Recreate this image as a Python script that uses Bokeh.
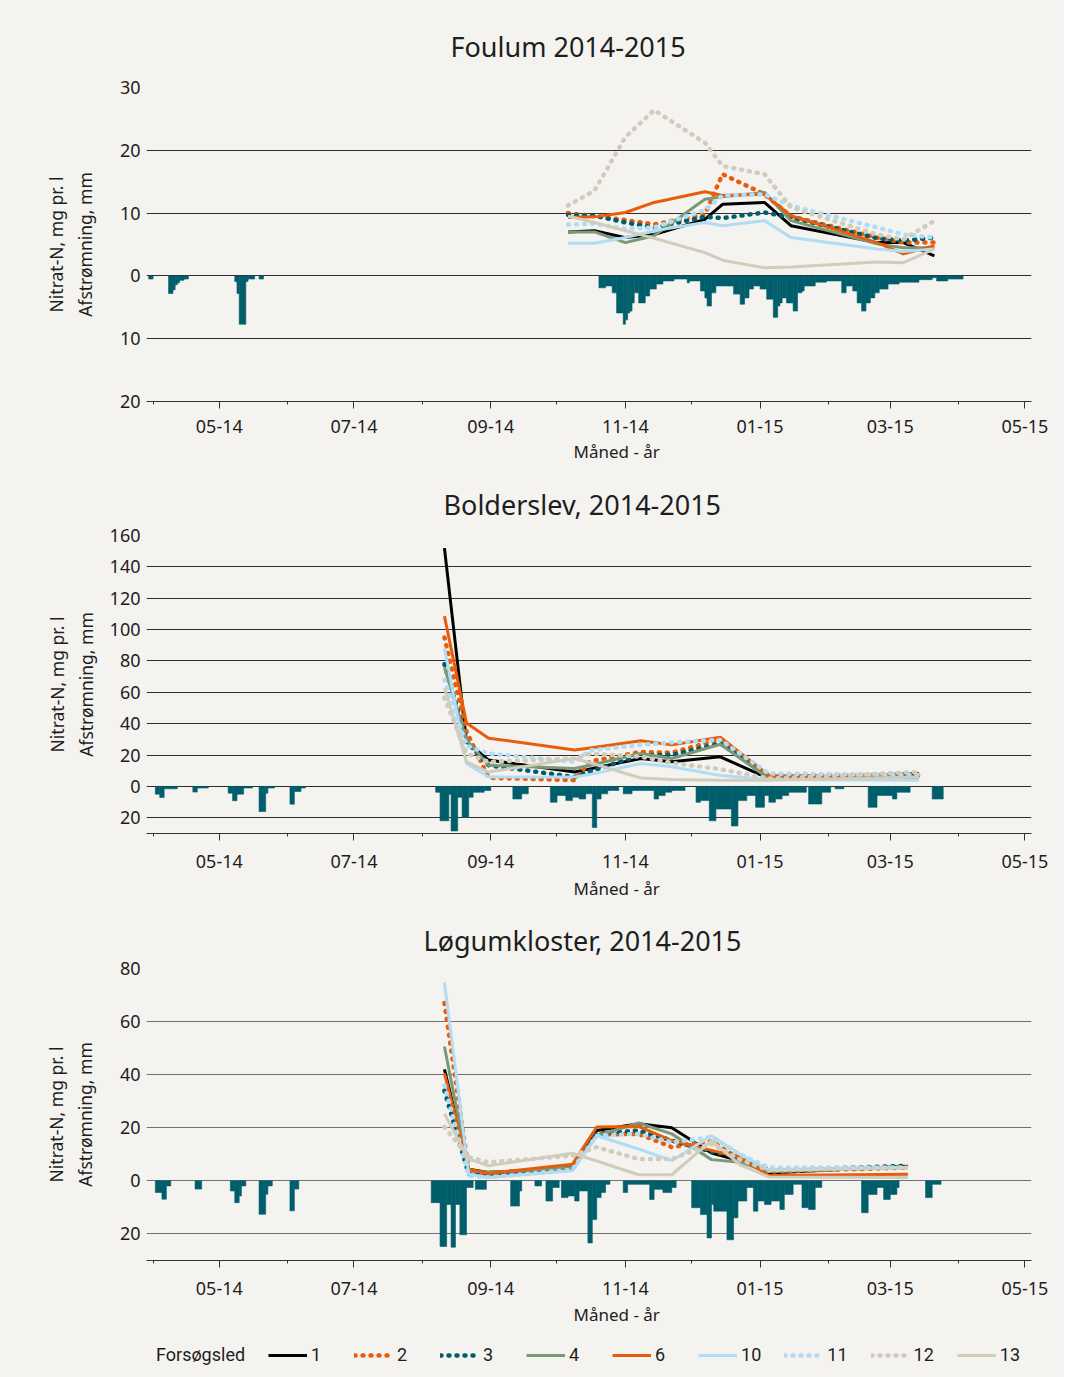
import numpy as np
import pandas as pd
from bokeh.plotting import figure
from bokeh.models import (Range1d, FixedTicker, DatetimeTickFormatter, CustomJSTickFormatter,
                          ColumnDataSource, Legend, LegendItem, Title)
from bokeh.layouts import column
from bokeh.embed import file_html
from bokeh.resources import INLINE

# ---------------- data ----------------
series_names = ["1", "2", "3", "4", "6", "10", "11", "12", "13"]
series_colors = ["#000000", "#e85d0c", "#005e6b", "#7b9978", "#e85d0c",
                 "#b0ddf5", "#b0ddf5", "#d1cdbd", "#d1cdbd"]
series_dotted = [False, True, True, False, False, False, True, True, False]

x_major_ticks = ["2014-05-01", "2014-07-01", "2014-09-01", "2014-11-01",
                 "2015-01-01", "2015-03-01", "2015-05-01"]
x_minor_ticks = ["2014-04-01", "2014-05-01", "2014-06-01", "2014-07-01", "2014-08-01",
                 "2014-09-01", "2014-10-01", "2014-11-01", "2014-12-01", "2015-01-01",
                 "2015-02-01", "2015-03-01", "2015-04-01", "2015-05-01"]

# Foulum
foulum_dates = ["2014-10-06", "2014-10-18", "2014-11-01", "2014-11-14", "2014-12-07", "2014-12-15",
                "2015-01-03", "2015-01-15", "2015-02-23", "2015-03-07", "2015-03-21"]
foulum_s1 = [7.0, 7.2, 6.1, 6.6, 9.0, 11.4, 11.7, 8.0, 5.3, 5.3, 3.2]
foulum_s2 = [10.0, 9.5, 8.9, 8.2, 9.8, 16.2, 13.0, 9.5, 6.1, 5.3, 5.3]
foulum_s3 = [9.7, 9.6, 8.5, 7.7, 9.4, 9.2, 10.1, 9.3, 6.0, 5.6, 6.1]
foulum_s4 = [7.0, 7.0, 5.3, 6.4, 12.2, 12.6, 13.3, 8.8, 5.1, 4.5, 4.5]
foulum_s6 = [9.3, 9.4, 10.1, 11.7, 13.4, 12.8, 13.0, 9.6, 5.3, 3.5, 4.8]
foulum_s10 = [5.2, 5.2, 6.1, 7.2, 8.5, 8.0, 8.8, 6.1, 4.3, 3.9, 4.3]
foulum_s11 = [8.2, 8.3, 7.5, 7.7, 10.5, 12.8, 13.0, 11.2, 7.7, 6.6, 6.1]
foulum_s12 = [11.2, 13.6, 22.1, 26.4, 21.2, 17.5, 16.2, 10.9, 6.6, 5.8, 8.8]
foulum_s13 = [9.5, 8.5, 7.2, 6.0, 3.7, 2.5, 1.3, 1.4, 2.2, 2.1, 4.3]

foulum_runoff = [
    ("2014-03-30", "2014-04-01", 0.5), ("2014-04-08", "2014-04-10", 2.8), ("2014-04-10", "2014-04-11", 2.2),
    ("2014-04-11", "2014-04-12", 1.4), ("2014-04-12", "2014-04-13", 1.1), ("2014-04-13", "2014-04-15", 0.7),
    ("2014-04-15", "2014-04-17", 0.5), ("2014-05-08", "2014-05-09", 0.9), ("2014-05-09", "2014-05-10", 2.8),
    ("2014-05-10", "2014-05-13", 7.7), ("2014-05-13", "2014-05-14", 0.9), ("2014-05-14", "2014-05-17", 0.5),
    ("2014-05-19", "2014-05-21", 0.5),
    ("2014-10-20", "2014-10-23", 1.9), ("2014-10-23", "2014-10-26", 1.6), ("2014-10-26", "2014-10-28", 2.7),
    ("2014-10-28", "2014-10-31", 5.9), ("2014-10-31", "2014-11-01", 7.7), ("2014-11-01", "2014-11-02", 7.0),
    ("2014-11-02", "2014-11-03", 5.9), ("2014-11-03", "2014-11-04", 5.6), ("2014-11-04", "2014-11-05", 4.3),
    ("2014-11-05", "2014-11-07", 2.7), ("2014-11-07", "2014-11-10", 4.3), ("2014-11-10", "2014-11-12", 3.2),
    ("2014-11-12", "2014-11-15", 2.1), ("2014-11-15", "2014-11-18", 1.3), ("2014-11-18", "2014-11-23", 0.8),
    ("2014-11-23", "2014-11-29", 0.5), ("2014-11-29", "2014-11-30", 1.1), ("2014-11-30", "2014-12-05", 0.8),
    ("2014-12-05", "2014-12-07", 2.4), ("2014-12-07", "2014-12-08", 3.5), ("2014-12-08", "2014-12-10", 4.8),
    ("2014-12-10", "2014-12-12", 2.7), ("2014-12-12", "2014-12-20", 1.6), ("2014-12-20", "2014-12-23", 2.9),
    ("2014-12-23", "2014-12-25", 4.5), ("2014-12-25", "2014-12-27", 3.5), ("2014-12-27", "2014-12-29", 2.1),
    ("2014-12-29", "2015-01-01", 1.6), ("2015-01-01", "2015-01-04", 2.1), ("2015-01-04", "2015-01-07", 3.7),
    ("2015-01-07", "2015-01-09", 6.6), ("2015-01-09", "2015-01-10", 4.8), ("2015-01-10", "2015-01-11", 4.3),
    ("2015-01-11", "2015-01-13", 3.5), ("2015-01-13", "2015-01-16", 4.3), ("2015-01-16", "2015-01-18", 5.6),
    ("2015-01-18", "2015-01-20", 2.7), ("2015-01-20", "2015-01-21", 2.4), ("2015-01-21", "2015-01-26", 1.6),
    ("2015-01-26", "2015-01-31", 1.0), ("2015-01-31", "2015-02-07", 0.8), ("2015-02-07", "2015-02-09", 2.7),
    ("2015-02-09", "2015-02-12", 1.6), ("2015-02-12", "2015-02-14", 2.4), ("2015-02-14", "2015-02-16", 4.3),
    ("2015-02-16", "2015-02-18", 5.6), ("2015-02-18", "2015-02-20", 4.3), ("2015-02-20", "2015-02-22", 3.5),
    ("2015-02-22", "2015-02-24", 2.7), ("2015-02-24", "2015-02-28", 2.1), ("2015-02-28", "2015-03-05", 1.3),
    ("2015-03-05", "2015-03-14", 1.0), ("2015-03-14", "2015-03-20", 0.6), ("2015-03-20", "2015-03-22", 0.3),
    ("2015-03-22", "2015-03-27", 0.8), ("2015-03-27", "2015-04-03", 0.5),
]

# Bolderslev
bold_dates = ["2014-08-11", "2014-08-21", "2014-08-31", "2014-10-09", "2014-10-16", "2014-11-08",
              "2014-11-22", "2014-12-14", "2015-01-05", "2015-03-14"]
bold_s1 = [152, 28.6, 16.8, 9.2, 11.2, 17.8, 15.7, 18.9, 5.0, 8.2]
bold_s2 = [95, 35, 5.5, 4.0, 16, 22, 21.5, 30, 7, 7]
bold_s3 = [78, 28.6, 13.5, 6.0, 9.6, 20, 20, 27.5, 6, 7]
bold_s4 = [76, 29.7, 13.5, 11.4, 13.5, 21, 17.8, 26.9, 5, 6]
bold_s6 = [108.6, 40.4, 30.8, 23.2, 24.5, 29.2, 26.5, 31.4, 7, 6]
bold_s10 = [88.4, 14.6, 6.0, 6.0, 7.7, 14.6, 12.5, 7, 4.5, 3.9]
bold_s11 = [68, 26, 21, 15.7, 23, 26.5, 28, 29.7, 8.2, 7.5]
bold_s12 = [56.6, 21, 15.7, 17.8, 21, 19, 15, 11, 5, 9.2]
bold_s13 = [63, 15.7, 9.2, 17.8, 15.1, 5.4, 4.5, 3.9, 3.9, 6]

bold_runoff = [
    ("2014-04-02", "2014-04-04", 4.9), ("2014-04-04", "2014-04-06", 7.0), ("2014-04-06", "2014-04-12", 1.5),
    ("2014-04-19", "2014-04-21", 3.6), ("2014-04-21", "2014-04-26", 1.0), ("2014-05-05", "2014-05-07", 4.3),
    ("2014-05-07", "2014-05-09", 9.1), ("2014-05-09", "2014-05-12", 4.9), ("2014-05-12", "2014-05-16", 1.0),
    ("2014-05-19", "2014-05-22", 16.0), ("2014-05-22", "2014-05-23", 4.3), ("2014-05-23", "2014-05-26", 1.0),
    ("2014-06-02", "2014-06-04", 11.3), ("2014-06-04", "2014-06-07", 3.2), ("2014-06-07", "2014-06-09", 1.0),
    ("2014-08-07", "2014-08-09", 3.7), ("2014-08-09", "2014-08-13", 21.9), ("2014-08-13", "2014-08-14", 5.0),
    ("2014-08-14", "2014-08-17", 28.4), ("2014-08-17", "2014-08-19", 6.9), ("2014-08-19", "2014-08-22", 19.8),
    ("2014-08-22", "2014-08-24", 6.9), ("2014-08-24", "2014-08-29", 3.7), ("2014-08-29", "2014-09-01", 2.6),
    ("2014-09-11", "2014-09-15", 8.0), ("2014-09-15", "2014-09-18", 4.7),
    ("2014-09-28", "2014-10-01", 10.1), ("2014-10-01", "2014-10-05", 5.8), ("2014-10-05", "2014-10-08", 9.0),
    ("2014-10-08", "2014-10-11", 6.9), ("2014-10-11", "2014-10-14", 8.0), ("2014-10-14", "2014-10-17", 4.7),
    ("2014-10-17", "2014-10-19", 26.2), ("2014-10-19", "2014-10-21", 8.0), ("2014-10-21", "2014-10-24", 4.7),
    ("2014-10-24", "2014-10-29", 2.6),
    ("2014-10-31", "2014-11-04", 4.7), ("2014-11-04", "2014-11-14", 2.6), ("2014-11-14", "2014-11-16", 8.0),
    ("2014-11-16", "2014-11-19", 5.8), ("2014-11-19", "2014-11-22", 3.7), ("2014-11-22", "2014-11-28", 2.6),
    ("2014-12-03", "2014-12-05", 10.1), ("2014-12-05", "2014-12-09", 9.0), ("2014-12-09", "2014-12-12", 21.9),
    ("2014-12-12", "2014-12-19", 14.4), ("2014-12-19", "2014-12-22", 25.2), ("2014-12-22", "2014-12-26", 9.0),
    ("2014-12-26", "2014-12-30", 5.8), ("2014-12-30", "2015-01-03", 13.3), ("2015-01-03", "2015-01-05", 5.8),
    ("2015-01-05", "2015-01-08", 10.1), ("2015-01-08", "2015-01-11", 8.0), ("2015-01-11", "2015-01-14", 5.8),
    ("2015-01-14", "2015-01-22", 3.7),
    ("2015-01-23", "2015-01-29", 11.2), ("2015-01-29", "2015-02-02", 3.7), ("2015-02-04", "2015-02-08", 1.5),
    ("2015-02-19", "2015-02-23", 13.3), ("2015-02-23", "2015-03-02", 5.8), ("2015-03-02", "2015-03-04", 8.0),
    ("2015-03-04", "2015-03-10", 3.7), ("2015-03-20", "2015-03-25", 8.0),
]

# Løgumkloster
logum_dates = ["2014-08-11", "2014-08-22", "2014-08-31", "2014-10-08", "2014-10-19", "2014-11-07",
               "2014-11-22", "2014-12-10", "2014-12-23", "2015-01-05", "2015-03-09"]
logum_s1 = [42, 4.4, 3.2, 5.0, 19, 21.5, 20, 10.5, 7.6, 3.0, 5.5]
logum_s2 = [67, 3.8, 2.5, 4.5, 17.5, 17.7, 12.7, 15, 8, 3.5, 5]
logum_s3 = [34, 2.5, 2.0, 4.5, 17.7, 19, 15.2, 11, 8.9, 4, 5.7]
logum_s4 = [50.6, 3.8, 3.2, 5.0, 17, 21.8, 17.7, 8, 7, 3.5, 5]
logum_s6 = [40.5, 4.4, 2.8, 6.3, 20.3, 20.5, 15.2, 11.5, 8.9, 2, 2.5]
logum_s10 = [74.7, 2.5, 1.3, 3.8, 17, 12, 7.6, 17, 10, 4, 5]
logum_s11 = [36, 1.9, 1.3, 4.2, 17, 17.7, 14.5, 16.5, 10, 5, 5]
logum_s12 = [20.3, 8.9, 7.0, 9.5, 12.7, 8.2, 8.2, 13.9, 8, 4, 5]
logum_s13 = [25.3, 8.2, 5.7, 10.4, 7.5, 2.3, 2.3, 15.2, 6, 1.5, 1.3]

logum_runoff = [
    ("2014-04-02", "2014-04-05", 4.4), ("2014-04-05", "2014-04-07", 6.9), ("2014-04-07", "2014-04-09", 1.9),
    ("2014-04-20", "2014-04-23", 3.1), ("2014-05-06", "2014-05-08", 3.8), ("2014-05-08", "2014-05-10", 8.2),
    ("2014-05-10", "2014-05-11", 5.7), ("2014-05-11", "2014-05-13", 1.9), ("2014-05-19", "2014-05-22", 12.6),
    ("2014-05-22", "2014-05-23", 5.0), ("2014-05-23", "2014-05-25", 1.9), ("2014-06-02", "2014-06-04", 11.3),
    ("2014-06-04", "2014-06-06", 3.1),
    ("2014-08-05", "2014-08-09", 8.2), ("2014-08-09", "2014-08-12", 24.7), ("2014-08-12", "2014-08-14", 8.9),
    ("2014-08-14", "2014-08-16", 25.0), ("2014-08-16", "2014-08-18", 8.9), ("2014-08-18", "2014-08-21", 20.3),
    ("2014-08-21", "2014-08-24", 2.5), ("2014-08-25", "2014-08-30", 3.2),
    ("2014-09-10", "2014-09-14", 9.5), ("2014-09-14", "2014-09-15", 3.8), ("2014-09-21", "2014-09-24", 1.9),
    ("2014-09-26", "2014-09-29", 7.6), ("2014-09-29", "2014-10-02", 2.5), ("2014-10-03", "2014-10-06", 6.3),
    ("2014-10-06", "2014-10-09", 5.7), ("2014-10-09", "2014-10-11", 7.6), ("2014-10-11", "2014-10-15", 3.8),
    ("2014-10-15", "2014-10-17", 23.4), ("2014-10-17", "2014-10-19", 14.6), ("2014-10-19", "2014-10-21", 6.3),
    ("2014-10-21", "2014-10-23", 4.4), ("2014-10-23", "2014-10-25", 1.3),
    ("2014-10-31", "2014-11-02", 4.4), ("2014-11-02", "2014-11-12", 1.3), ("2014-11-12", "2014-11-14", 7.0),
    ("2014-11-14", "2014-11-18", 3.2), ("2014-11-18", "2014-11-22", 4.4), ("2014-11-22", "2014-11-24", 2.5),
    ("2014-12-01", "2014-12-05", 10.1), ("2014-12-05", "2014-12-08", 12.7), ("2014-12-08", "2014-12-10", 21.5),
    ("2014-12-10", "2014-12-11", 8.9), ("2014-12-11", "2014-12-17", 11.4), ("2014-12-17", "2014-12-20", 22.2),
    ("2014-12-20", "2014-12-22", 13.9), ("2014-12-22", "2014-12-26", 7.6), ("2014-12-26", "2014-12-29", 2.5),
    ("2014-12-29", "2014-12-31", 11.4), ("2014-12-31", "2015-01-03", 7.6), ("2015-01-03", "2015-01-06", 8.9),
    ("2015-01-06", "2015-01-10", 7.6), ("2015-01-10", "2015-01-12", 10.8), ("2015-01-12", "2015-01-16", 5.1),
    ("2015-01-16", "2015-01-20", 1.3), ("2015-01-20", "2015-01-23", 10.1), ("2015-01-23", "2015-01-26", 10.8),
    ("2015-01-26", "2015-01-29", 2.5),
    ("2015-02-16", "2015-02-19", 12.0), ("2015-02-19", "2015-02-23", 5.1), ("2015-02-23", "2015-02-26", 2.5),
    ("2015-02-26", "2015-03-01", 7.0), ("2015-03-01", "2015-03-04", 5.1), ("2015-03-04", "2015-03-05", 2.5),
    ("2015-03-17", "2015-03-20", 6.3), ("2015-03-20", "2015-03-24", 1.3),
]

# ---------------- styling ----------------
FONT = "Noto Sans"
BG = "#f4f3ef"
TEXT = "#1e1e1e"
RUNOFF = "#005e6b"
X_START, X_END = "2014-03-29", "2015-05-04"
W = 1064


def ms(d):
    return pd.Timestamp(d).value / 1e6


def draw_series(p, xs, values):
    rends = []
    for color, dotted, ys in zip(series_colors, series_dotted, values):
        if dotted:
            r = p.line(xs, ys, line_color=color, line_width=4.5, line_dash="1 7",
                       line_cap="round")
        else:
            r = p.line(xs, ys, line_color=color, line_width=3, line_join="round")
        rends.append(r)
    return rends


def panel(title, dates, values, runoff, y0, y1, yticks, height, top, bottom,
          title_standoff, title_offset, ylab_standoff, grid_color,
          xlab_standoff=11, xtitle_standoff=4):
    p = figure(width=W, height=height, x_axis_type="datetime",
               x_range=Range1d(pd.Timestamp(X_START), pd.Timestamp(X_END)),
               y_range=Range1d(y0, y1), output_backend="svg", toolbar_location=None,
               min_border_left=146, min_border_right=W - 1031, min_border_top=top,
               min_border_bottom=bottom, background_fill_color=BG, border_fill_color=BG,
               outline_line_color=None)
    p.title.text = title
    p.title.align = "left"
    p.title.offset = title_offset
    p.title.text_font = FONT
    p.title.text_font_size = "27px"
    p.title.text_font_style = "normal"
    p.title.text_color = TEXT
    p.title.standoff = title_standoff

    rsrc = ColumnDataSource(dict(
        left=pd.to_datetime([r[0] for r in runoff]),
        right=pd.to_datetime([r[1] for r in runoff]),
        bottom=[-r[2] for r in runoff],
        top=[0.0] * len(runoff)))
    p.quad(left="left", right="right", bottom="bottom", top="top", source=rsrc,
           fill_color=RUNOFF, line_color=RUNOFF, line_width=0.6)

    draw_series(p, pd.to_datetime(dates), values)

    xa = p.xaxis[0]
    xa.ticker = FixedTicker(ticks=[ms(t) for t in x_major_ticks],
                            minor_ticks=[ms(t) for t in x_minor_ticks])
    fmt = "%m-%y"
    xa.formatter = DatetimeTickFormatter(microseconds=fmt, milliseconds=fmt, seconds=fmt,
                                         minsec=fmt, minutes=fmt, hourmin=fmt, hours=fmt,
                                         days=fmt, months=fmt, years=fmt)
    xa.axis_line_color = "#333333"
    xa.major_tick_line_color = "#333333"
    xa.minor_tick_line_color = "#333333"
    xa.major_tick_in = 0
    xa.major_tick_out = 7
    xa.minor_tick_in = 0
    xa.minor_tick_out = 3
    xa.major_label_standoff = xlab_standoff
    xa.major_label_text_font = FONT
    xa.major_label_text_font_size = "18px"
    xa.major_label_text_color = TEXT

    xt = Title(text="Måned - år", align="left", offset=427, standoff=xtitle_standoff,
               text_font=FONT, text_font_size="17px", text_font_style="normal",
               text_color=TEXT)
    p.add_layout(xt, "below")

    ya = p.yaxis[0]
    ya.ticker = FixedTicker(ticks=yticks, minor_ticks=[])
    ya.formatter = CustomJSTickFormatter(code="return Math.abs(tick).toString();")
    ya.axis_line_color = None
    ya.major_tick_line_color = None
    ya.minor_tick_line_color = None
    ya.major_tick_in = 0
    ya.major_tick_out = 0
    ya.minor_tick_in = 0
    ya.minor_tick_out = 0
    ya.major_label_standoff = 6
    ya.major_label_text_font = FONT
    ya.major_label_text_font_size = "18px"
    ya.major_label_text_color = TEXT
    ya.axis_label = "Nitrat-N, mg pr. l\nAfstrømning, mm"
    ya.axis_label_text_font = FONT
    ya.axis_label_text_font_size = "17.5px"
    ya.axis_label_text_font_style = "normal"
    ya.axis_label_text_color = TEXT
    ya.axis_label_text_line_height = 1.2
    ya.axis_label_standoff = ylab_standoff

    p.xgrid.visible = False
    p.ygrid.ticker = FixedTicker(ticks=yticks, minor_ticks=[])
    p.ygrid.grid_line_color = grid_color
    p.ygrid.grid_line_width = 1
    return p


foulum_vals = [foulum_s1, foulum_s2, foulum_s3, foulum_s4, foulum_s6, foulum_s10, foulum_s11,
               foulum_s12, foulum_s13]
bold_vals = [bold_s1, bold_s2, bold_s3, bold_s4, bold_s6, bold_s10, bold_s11, bold_s12, bold_s13]
logum_vals = [logum_s1, logum_s2, logum_s3, logum_s4, logum_s6, logum_s10, logum_s11, logum_s12,
              logum_s13]

p1 = panel("Foulum 2014-2015", foulum_dates, foulum_vals, foulum_runoff,
           -20, 30, [-20, -10, 0, 10, 20, 30], 469, 87, 68, 46, 304, 20, "#2e2e2e")
p2 = panel("Bolderslev, 2014-2015", bold_dates, bold_vals, bold_runoff,
           -30, 160, [-20, 0, 20, 40, 60, 80, 100, 120, 140, 160], 439, 66, 75, 26, 297, 9,
           "#2e2e2e", xlab_standoff=14, xtitle_standoff=8)
p3 = panel("Løgumkloster, 2014-2015", logum_dates, logum_vals, logum_runoff,
           -30, 80, [-20, 0, 20, 40, 60, 80], 424, 60, 72, 20, 277, 20, "#707070",
           xlab_standoff=14, xtitle_standoff=7)

# legend strip (its lines lie outside the 0..1 ranges, only their legend samples show)
pl = figure(width=W, height=45, x_range=Range1d(0, 1), y_range=Range1d(0, 1),
            output_backend="svg", toolbar_location=None, x_axis_location=None,
            y_axis_location=None, min_border=0, background_fill_color=BG,
            border_fill_color=BG, outline_line_color=None)
pl.xgrid.visible = False
pl.ygrid.visible = False
lx = pd.to_datetime(logum_dates)
ghost = pl.line(lx, logum_s1, line_alpha=0)
leg_rends = draw_series(pl, lx, logum_vals)
items = [LegendItem(label="Forsøgsled", renderers=[ghost])]
items += [LegendItem(label=n, renderers=[r]) for n, r in zip(series_names, leg_rends)]
leg = Legend(items=items, orientation="horizontal", location=(-33, 12),
             glyph_width=39, glyph_height=20, label_standoff=4, label_width=20,
             spacing=23, padding=0, margin=0, background_fill_alpha=0,
             border_line_color=None, label_text_font="Roboto",
             label_text_font_size="18px", label_text_color=TEXT)
pl.add_layout(leg)

layout = column(p1, p2, p3, pl, spacing=0, styles={"background-color": BG})
open("out.html", "w").write(file_html(layout, INLINE))
